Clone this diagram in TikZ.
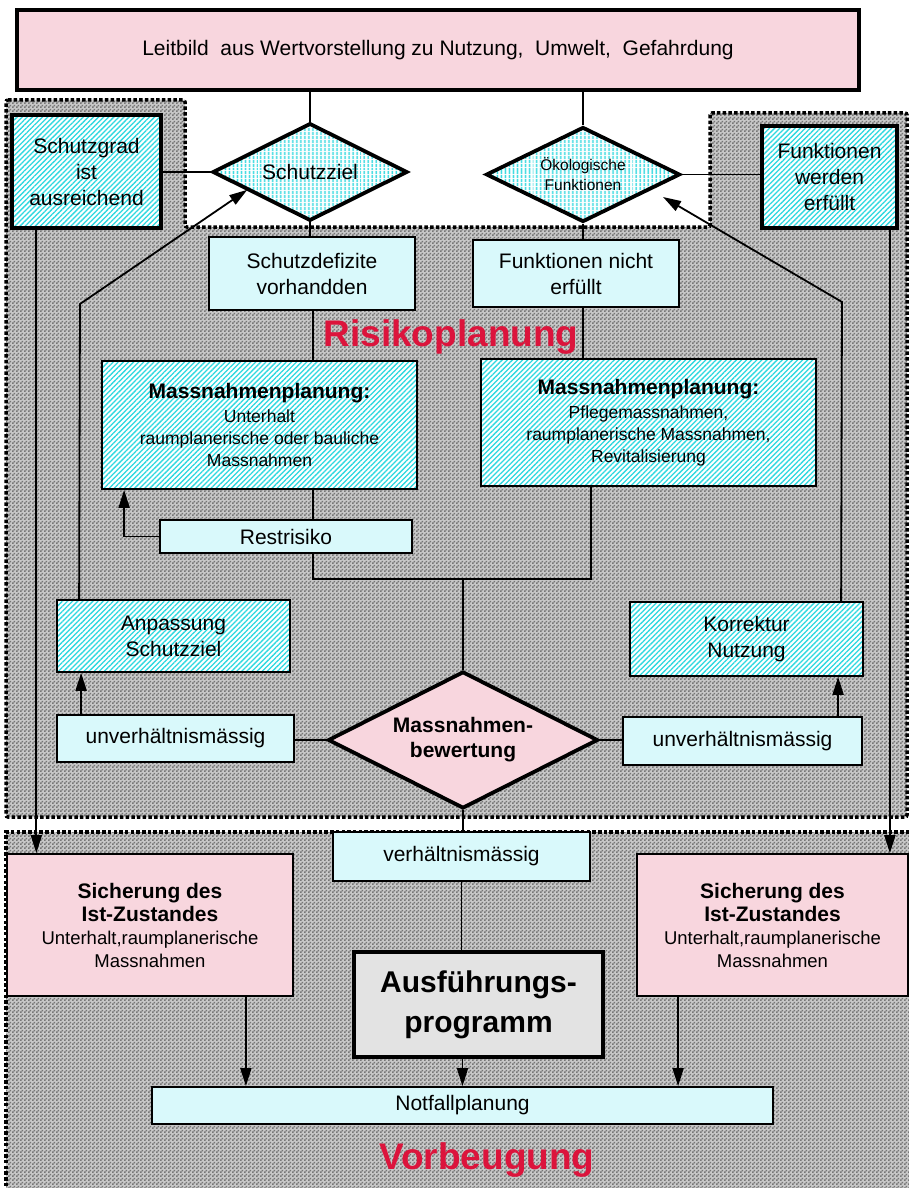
\documentclass[tikz,border=0pt]{standalone}
\usepackage{fontspec}
\setmainfont{Liberation Sans}
\usetikzlibrary{shapes.geometric,arrows.meta,patterns,patterns.meta,calc}
\definecolor{pinkfill}{HTML}{F8D6DE}
\definecolor{lightcyan}{HTML}{D9F9FB}
\definecolor{hatchcyan}{HTML}{2ED8DF}
\definecolor{checkgray}{HTML}{767676}
\definecolor{regbase}{HTML}{C8C8C8}
\definecolor{titlered}{HTML}{DC143C}
\definecolor{ausgray}{HTML}{E3E3E3}
\pgfdeclarepatternformonly{checker}{\pgfpointorigin}{\pgfqpoint{4pt}{4pt}}{\pgfqpoint{4pt}{4pt}}{%
  \pgfpathrectangle{\pgfpointorigin}{\pgfqpoint{2pt}{2pt}}%
  \pgfpathrectangle{\pgfqpoint{2pt}{2pt}}{\pgfqpoint{2pt}{2pt}}%
  \pgfusepath{fill}}
\tikzset{
  txt/.style={font=\fontsize{21}{26}\selectfont, align=center, inner sep=0pt},
  thinbox/.style={txt, draw=black, line width=1.8pt, rectangle},
  thickbox/.style={txt, draw=black, line width=3.8pt, rectangle},
  cyanbox/.style={thinbox, fill=lightcyan},
  hatch/.style={preaction={fill=white}, pattern={Lines[angle=45,distance=3.6pt,line width=1.3pt]}, pattern color=hatchcyan},
  stripes/.style={preaction={fill=white}, pattern={Lines[angle=90,distance=4pt,line width=2pt]}, pattern color=hatchcyan},
  dia/.style={txt, diamond, shape aspect=2, draw=black, line width=3.8pt},
  conn/.style={line width=1.8pt},
  arr/.style={conn, -{Triangle[length=18pt,width=11pt]}},
  title/.style={font=\fontsize{37}{44}\selectfont\bfseries, text=titlered, inner sep=0pt},
  regionfill/.style={preaction={fill=regbase}, pattern=checker, pattern color=checkgray},
  regionborder/.style={draw=black, line width=3.5pt, dash pattern=on 3.5pt off 2.2pt}
}
\begin{document}
\begin{tikzpicture}[x=1pt,y=-1pt]
\useasboundingbox (0,0) rectangle (909,1188);
\fill[white] (0,0) rectangle (909,1188);
% regions
\fill[regionfill] (6,100) -- (185,100) -- (185,227) -- (710,227) -- (710,113) -- (907,113) -- (907,817) -- (6,817) -- cycle;
\draw[regionborder, rounded corners=2pt] (6,100) -- (185,100) -- (185,227) -- (710,227) -- (710,113) -- (907,113) -- (907,817) -- (6,817) -- cycle;
\fill[regionfill] (6,832) rectangle (915,1195);
\draw[regionborder] (915,832) -- (6,832) -- (6,1195);

% nodes
\node[thickbox, fill=pinkfill, minimum width=842pt, minimum height=80pt] (leit) at (438,50) {Leitbild\ \ aus Wertvorstellung zu Nutzung,\ \ Umwelt,\ \ Gefahrdung};
\node[thickbox, hatch, minimum width=149pt, minimum height=113pt] (schutzgrad) at (86.5,171.5) {Schutzgrad\\ist\\ausreichend};
\node[dia, stripes, minimum width=194pt, minimum height=97pt] (schutzziel) at (310,172) {Schutzziel};
\node[dia, stripes, minimum width=194pt, minimum height=95pt, font=\fontsize{15.5}{20}\selectfont] (oeko) at (583,174.5) {Ökologische\\Funktionen};
\node[thickbox, hatch, minimum width=135pt, minimum height=102pt] (funkerf) at (829.5,177) {Funktionen\\werden\\erfüllt};
\node[cyanbox, minimum width=206pt, minimum height=73pt] (defizit) at (312,273.5) {Schutzdefizite\\vorhandden};
\node[cyanbox, minimum width=206pt, minimum height=67pt] (nichterf) at (576,273.5) {Funktionen nicht\\erfüllt};
\node[title] (risk) at (451,337) {Risikoplanung};
\node[thinbox, hatch, minimum width=315pt, minimum height=128pt, font=\fontsize{17.5}{22}\selectfont] (mpl) at (259.5,425) {{\fontsize{21}{26}\selectfont\bfseries Massnahmenplanung:}\\[2pt]Unterhalt\\raumplanerische oder bauliche\\Massnahmen};
\node[thinbox, hatch, minimum width=335pt, minimum height=127pt, font=\fontsize{17.5}{22}\selectfont] (mpr) at (648.5,422.5) {{\fontsize{21}{26}\selectfont\bfseries Massnahmenplanung:}\\[2pt]Pflegemassnahmen,\\raumplanerische Massnahmen,\\Revitalisierung};
\node[cyanbox, minimum width=252pt, minimum height=33pt] (rest) at (286,536.5) {Restrisiko};
\node[thinbox, hatch, minimum width=233pt, minimum height=72pt] (anp) at (173.5,636) {Anpassung\\Schutzziel};
\node[cyanbox, minimum width=237pt, minimum height=47pt] (uvl) at (175.5,738.5) {unverhältnismässig};
\node[dia, fill=pinkfill, minimum width=270pt, minimum height=137pt, font=\fontsize{21}{25}\selectfont\bfseries] (bew) at (463,740) {Massnahmen-\\bewertung};
\node[thinbox, hatch, minimum width=233pt, minimum height=74pt] (kor) at (746.5,639) {Korrektur\\Nutzung};
\node[cyanbox, minimum width=239pt, minimum height=48pt] (uvr) at (742.5,741) {unverhältnismässig};
\node[cyanbox, minimum width=257pt, minimum height=49pt] (verh) at (461.5,856.5) {verhältnismässig};
\node[thinbox, fill=pinkfill, minimum width=286pt, minimum height=142pt, font=\fontsize{18.5}{23}\selectfont] (sicl) at (150,925) {{\fontsize{21}{25}\selectfont\bfseries Sicherung des}\\{\fontsize{21}{25}\selectfont\bfseries Ist-Zustandes}\\Unterhalt,raumplanerische\\Massnahmen};
\node[thinbox, fill=pinkfill, minimum width=271pt, minimum height=142pt, font=\fontsize{18.5}{23}\selectfont] (sicr) at (772.5,925) {{\fontsize{21}{25}\selectfont\bfseries Sicherung des}\\{\fontsize{21}{25}\selectfont\bfseries Ist-Zustandes}\\Unterhalt,raumplanerische\\Massnahmen};
\node[thickbox, fill=ausgray, minimum width=249pt, minimum height=105pt, font=\fontsize{30}{40}\selectfont\bfseries] (aus) at (478.5,1004.5) {Ausführungs-\\programm};
\node[cyanbox, minimum width=621pt, minimum height=37pt] (notf) at (462.5,1105.5) {Notfallplanung};
\node[title] (vorb) at (487,1160) {Vorbeugung};

% helper coordinates
\coordinate (jl) at (313,579);
\coordinate (jr) at (591,579);
\coordinate (al) at (80,304);
\coordinate (ar) at (842,302);
\coordinate (ot) at (663,197);
\coordinate (szt) at ($(schutzziel.west)!0.36!(schutzziel.south)$);

% connectors
\draw[conn] (schutzziel.north |- leit.south) -- (schutzziel.north);
\draw[conn] (oeko.north |- leit.south) -- (oeko.north);
\draw[conn] (schutzziel.west -| schutzgrad.east) -- (schutzziel.west);
\draw[conn] (oeko.east) -- (oeko.east -| funkerf.west);
\draw[conn] (schutzziel.south) -- (schutzziel.south |- defizit.north);
\draw[conn] (oeko.south) -- (oeko.south |- nichterf.north);
\draw[conn] (jl |- defizit.south) -- (jl |- mpl.north);
\draw[conn] (oeko.south |- nichterf.south) -- (oeko.south |- mpr.north);
\draw[conn] (jl |- mpl.south) -- (jl |- rest.north);
\draw[conn] (jl |- rest.south) -- (jl) -- (jr) -- (jr |- mpr.south);
\draw[conn] (bew.north |- jl) -- (bew.north);
\draw[arr] (rest.west) -| ([xshift=23pt]mpl.south west);
\draw[arr] ([xshift=25pt]uvl.north west) -- ([xshift=25pt]anp.south west);
\draw[arr] ([xshift=23pt]anp.north west) -- (al) -- (szt);
\draw[arr] ([xshift=216pt]uvr.north west) -- ([xshift=216pt]uvr.north west |- kor.south);
\draw[arr] ([xshift=212pt]kor.north west) -- (ar) -- (ot);
\draw[conn] (bew.west -| uvl.east) -- (bew.west);
\draw[conn] (bew.east) -- (bew.east -| uvr.west);
\draw[arr] ([xshift=25pt]schutzgrad.south west) -- ([xshift=25pt]schutzgrad.south west |- sicl.north);
\draw[arr] ([xshift=-9pt]funkerf.south east) -- ([xshift=-9pt]funkerf.south east |- sicr.north);
\draw[conn] (bew.south) -- (bew.south |- verh.north);
\draw[conn] (verh.south) -- (verh.south |- aus.north);
\draw[arr] (aus.south -| notf.north) -- (notf.north);
\draw[arr] ([xshift=-48pt]sicl.south east) -- ([xshift=-48pt]sicl.south east |- notf.north);
\draw[arr] ([xshift=42pt]sicr.south west) -- ([xshift=42pt]sicr.south west |- notf.north);
\end{tikzpicture}
\end{document}
